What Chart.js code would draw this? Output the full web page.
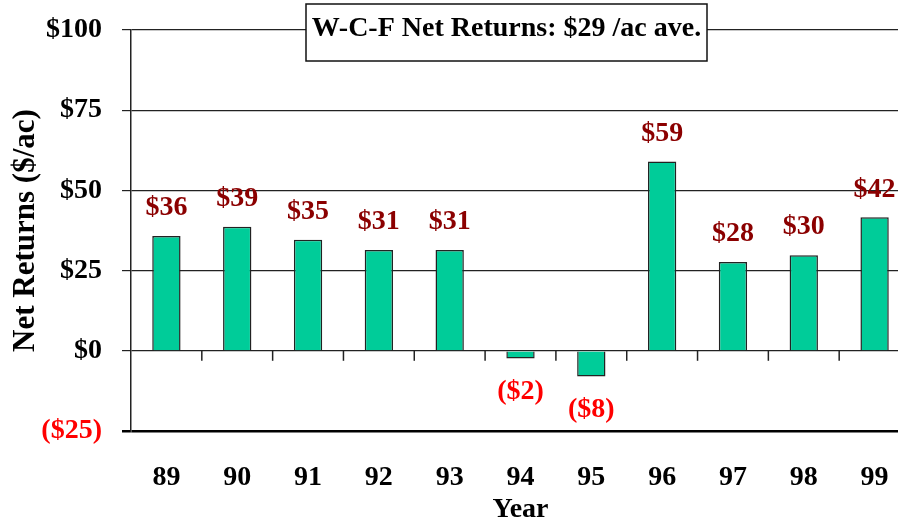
<!DOCTYPE html>
<html>
<head>
<meta charset="utf-8">
<script src="https://cdn.jsdelivr.net/npm/chart.js@4.4.0/dist/chart.umd.min.js"></script>
<style>
html, body { margin: 0; padding: 0; background: #fff; overflow: hidden; }
#wrap { width: 911px; height: 525px; position: relative; }
</style>
</head>
<body>
<div id="wrap"><canvas id="netreturns"></canvas></div>
<script>
// data
var years = ["89", "90", "91", "92", "93", "94", "95", "96", "97", "98", "99"];
var netReturns = [35.8, 38.7, 34.6, 31.4, 31.4, -2.4, -8.0, 59.0, 27.7, 29.8, 41.6];
var yTicks = [-25, 0, 25, 50, 75, 100];
var chartTitle = "W-C-F Net Returns: $29 /ac ave.";

var serif = "'Liberation Serif', 'Times New Roman', serif";

function money(v) {
    var r = Math.round(v);
    return r < 0 ? "($" + (-r) + ")" : "$" + r;
}

// value labels over / under each bar
var barLabels = {
    id: "barLabels",
    afterDatasetsDraw: function (chart) {
        var ctx = chart.ctx;
        var meta = chart.getDatasetMeta(0);
        ctx.save();
        ctx.font = "bold 28px " + serif;
        ctx.textAlign = "center";
        ctx.textBaseline = "middle";
        meta.data.forEach(function (bar, i) {
            var v = netReturns[i];
            ctx.fillStyle = v < 0 ? "#ff0000" : "#8b0000";
            ctx.fillText(money(v), bar.x, v < 0 ? bar.y + 33 : bar.y - 28);
        });
        ctx.restore();
    }
};

// category tick marks hanging from the $0 line
var zeroTicks = {
    id: "zeroTicks",
    afterDatasetsDraw: function (chart) {
        var ctx = chart.ctx;
        var x = chart.scales.x;
        var y0 = chart.scales.y.getPixelForValue(0);
        var half = (x.getPixelForValue(1) - x.getPixelForValue(0)) / 2;
        ctx.save();
        ctx.strokeStyle = "#222";
        ctx.lineWidth = 1.5;
        for (var i = 0; i < years.length; i++) {
            var bx = x.getPixelForValue(i) + half;
            ctx.beginPath();
            ctx.moveTo(bx, y0);
            ctx.lineTo(bx, y0 + 10);
            ctx.stroke();
        }
        ctx.restore();
    }
};

// boxed title sitting on the top gridline
var titleBox = {
    id: "titleBox",
    afterDraw: function (chart) {
        var ctx = chart.ctx;
        ctx.save();
        ctx.fillStyle = "#fff";
        ctx.fillRect(306, 4, 401, 57);
        ctx.strokeStyle = "#111";
        ctx.lineWidth = 1.5;
        ctx.strokeRect(306, 4, 401, 57);
        ctx.fillStyle = "#000";
        ctx.font = "bold 28px " + serif;
        ctx.textAlign = "center";
        ctx.textBaseline = "middle";
        ctx.fillText(chartTitle, 506.5, 29);
        ctx.restore();
    }
};

new Chart("netreturns", {
    type: "bar",
    data: {
        labels: years,
        datasets: [{
            label: "Net Returns",
            data: netReturns,
            backgroundColor: "#00cc99",
            borderColor: "#222",
            borderWidth: 1.5,
            barPercentage: 0.4,
            categoryPercentage: 1
        }]
    },
    options: {
        responsive: true,
        maintainAspectRatio: false,
        animation: false,
        layout: { padding: { top: 30, right: 1, left: 0, bottom: 0 } },
        plugins: {
            legend: { display: false },
            tooltip: { enabled: false }
        },
        scales: {
            x: {
                grid: { display: false },
                border: { display: false },
                ticks: {
                    color: "#000",
                    padding: 22,
                    font: { family: serif, size: 28, weight: "bold" }
                },
                title: {
                    display: true,
                    text: "Year",
                    color: "#000",
                    padding: { top: 0, bottom: -2 },
                    font: { family: serif, size: 28, weight: "bold" }
                },
                afterFit: function (scale) {
                    scale.height = 94;
                    scale.paddingLeft = 0;
                    scale.paddingRight = 0;
                }
            },
            y: {
                min: -25,
                max: 100,
                afterBuildTicks: function (scale) {
                    scale.ticks = yTicks.map(function (v) { return { value: v }; });
                },
                grid: {
                    color: function (c) { return c.tick && c.tick.value === -25 ? "#000" : "#222"; },
                    lineWidth: function (c) { return c.tick && c.tick.value === -25 ? 2.5 : 1.2; },
                    tickLength: 9
                },
                border: { display: true, color: "#222", width: 1.5 },
                ticks: {
                    padding: 20,
                    color: function (c) { return c.tick.value < 0 ? "#ff0000" : "#000"; },
                    font: { family: serif, size: 28, weight: "bold" },
                    callback: function (v) { return money(v); }
                },
                title: {
                    display: true,
                    text: "Net Returns ($/ac)",
                    color: "#000",
                    padding: { top: 7, bottom: 0 },
                    font: { family: serif, size: 31, weight: "bold" }
                },
                afterFit: function (scale) {
                    scale.width = 131;
                    scale.paddingTop = 0;
                    scale.paddingBottom = 0;
                }
            }
        }
    },
    plugins: [barLabels, zeroTicks, titleBox]
});
</script>
</body>
</html>
